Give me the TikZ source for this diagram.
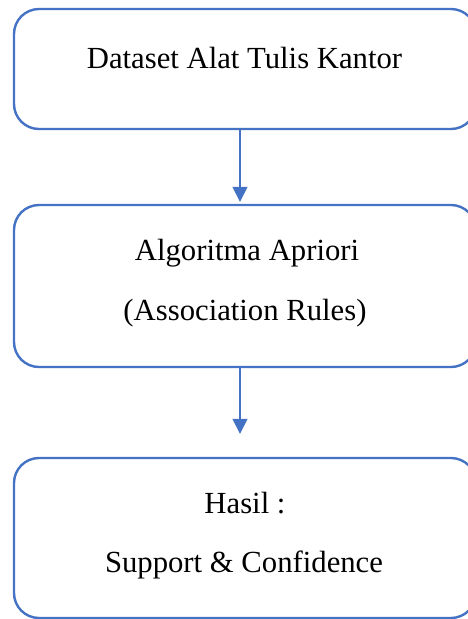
\documentclass[tikz,border=0pt]{standalone}
\usepackage{fontspec}
\setmainfont{Liberation Serif}
\usetikzlibrary{arrows.meta}
\definecolor{boxblue}{HTML}{4472C4}
\tikzstyle{StepNode}=[rectangle, rounded corners=25pt, draw=boxblue, line width=2.4pt, minimum width=462pt, inner sep=0pt]
\tikzstyle{StepText}=[anchor=base, inner sep=0pt, font=\fontsize{30.7}{36}\selectfont]
\tikzstyle{FlowEdge}=[-{Triangle[width=15pt,length=15pt]}, line width=1.6pt, boxblue]

\begin{document}
\begin{tikzpicture}[x=1pt, y=-1pt]
\useasboundingbox (0,0) rectangle (467,619);
\node[StepNode, minimum height=120pt](Dataset) at (245,69) {};
\node[StepNode, minimum height=162pt](Apriori) at (245,286) {};
\node[StepNode, minimum height=160pt](Hasil) at (245,538) {};

\node[StepText](DatasetLine) at (244.5,68) {Dataset Alat Tulis Kantor};
\node[StepText](AprioriLineA) at (247,260) {Algoritma Apriori};
\node[StepText](AprioriLineB) at (245,320) {(Association Rules)};
\node[StepText](HasilLineA) at (245,513) {Hasil :};
\node[StepText](HasilLineB) at (244,572) {Support \& Confidence};

\draw[FlowEdge, shorten >=2pt]([xshift=-5pt]Dataset.south) -- ([xshift=-5pt]Apriori.north);
\draw[FlowEdge, shorten >=23pt]([xshift=-5pt]Apriori.south) -- ([xshift=-5pt]Hasil.north);
\end{tikzpicture}
\end{document}
